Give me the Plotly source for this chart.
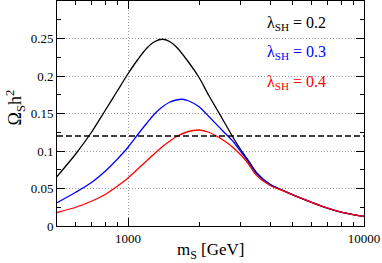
import plotly.graph_objects as go

# Data
m_s_02 = [500, 600, 700, 800, 900, 1000, 1100, 1200, 1300, 1400, 1500, 1600, 1800, 2000, 2200,
          2500, 2800, 3000, 3200, 3500, 4000, 4500, 5000, 6000, 7000, 8000, 9000, 10000]
omega_02 = [0.066, 0.096, 0.125, 0.154, 0.180, 0.203, 0.222, 0.237, 0.246, 0.249, 0.246, 0.239,
            0.219, 0.198, 0.174, 0.144, 0.117, 0.102, 0.0895, 0.0715, 0.0555, 0.0478, 0.0415,
            0.0315, 0.0238, 0.0185, 0.0152, 0.0128]
m_s_03 = [500, 600, 700, 800, 900, 1000, 1100, 1200, 1300, 1400, 1500, 1600, 1700, 1800, 2000,
          2200, 2500, 2800, 3000, 3200, 3500, 4000, 4500, 5000, 6000, 7000, 8000, 9000, 10000]
omega_03 = [0.031, 0.045, 0.058, 0.073, 0.089, 0.105, 0.122, 0.137, 0.150, 0.159, 0.165, 0.168,
            0.169, 0.167, 0.159, 0.146, 0.128, 0.112, 0.0995, 0.088, 0.070, 0.055, 0.0478,
            0.0415, 0.0315, 0.0238, 0.0185, 0.0152, 0.0128]
m_s_04 = [500, 600, 700, 800, 900, 1000, 1200, 1400, 1500, 1600, 1800, 2000, 2200, 2400, 2600,
          2800, 3000, 3200, 3500, 4000, 4500, 5000, 6000, 7000, 8000, 9000, 10000]
omega_04 = [0.018, 0.025, 0.033, 0.042, 0.053, 0.064, 0.087, 0.106, 0.113, 0.119, 0.126, 0.128,
            0.125, 0.119, 0.112, 0.104, 0.095, 0.085, 0.0675, 0.054, 0.0475, 0.0415, 0.0315,
            0.0238, 0.0185, 0.0152, 0.0128]
relic = 0.12
relic_x = [500, 10000]
lambdas = ["0.2", "0.3", "0.4"]
colors = ["black", "blue", "red"]

x_major = [1000, 10000]
x_labels = ["1000", "10000"]
x_minor = [500, 600, 700, 800, 900, 2000, 3000, 4000, 5000, 6000, 7000, 8000, 9000]
y_major = [0, 0.05, 0.1, 0.15, 0.2, 0.25]
y_labels = ["0", "0.05", "0.1", "0.15", "0.2", "0.25"]

FONT = "Liberation Serif, Times New Roman, Times, serif"

fig = go.Figure()
for xs, ys, c in zip([m_s_02, m_s_03, m_s_04], [omega_02, omega_03, omega_04], colors):
    fig.add_trace(go.Scatter(x=xs, y=ys, mode="lines",
                             line=dict(color=c, width=1.3, shape="spline", smoothing=0.8),
                             showlegend=False, hoverinfo="skip"))
fig.add_trace(go.Scatter(x=relic_x, y=[relic, relic], mode="lines",
                         line=dict(color="black", width=1.3, dash="6px,3px"), showlegend=False,
                         hoverinfo="skip"))

axis_common = dict(ticks="inside", ticklen=8, tickcolor="black", showline=True, linecolor="black",
                   linewidth=1, mirror="ticks", showgrid=True, gridcolor="#9a9a9a",
                   griddash="1px,2px", gridwidth=1, zeroline=False,
                   tickfont=dict(family=FONT, size=13, color="black"))

fig.update_layout(
    width=382, height=263,
    margin=dict(l=57, r=18, t=1, b=37),
    paper_bgcolor="white", plot_bgcolor="white",
    font=dict(family=FONT, size=13, color="black"),
    xaxis=dict(type="log", range=[2.69897, 4], tickvals=x_major, ticktext=x_labels,
               minor=dict(tickvals=x_minor, ticks="inside", ticklen=4, tickcolor="black",
                          showgrid=False), **axis_common),
    yaxis=dict(range=[0, 0.3], tickvals=y_major, ticktext=y_labels,
               minor=dict(dtick=0.025, tick0=0, ticks="inside", ticklen=4, tickcolor="black",
                          showgrid=False), **axis_common),
)

fig.add_annotation(text="m<sub>S</sub> [GeV]", xref="paper", yref="paper", x=0.5, y=-0.113,
                   xanchor="center", yanchor="middle", showarrow=False,
                   font=dict(family=FONT, size=17, color="black"))
fig.add_annotation(text="Ω<sub>S</sub>h<sup>2</sup>", xref="paper", yref="paper", x=-0.135, y=0.525,
                   xanchor="center", yanchor="middle", textangle=-90, showarrow=False,
                   font=dict(family=FONT, size=18, color="black"))

ypos = [0.902, 0.773, 0.636]
for lam, c, yp in zip(lambdas, colors, ypos):
    fig.add_annotation(text=f"λ<sub>SH</sub> = {lam}", xref="paper", yref="paper", x=0.677, y=yp,
                       xanchor="left", yanchor="middle", showarrow=False,
                       font=dict(family=FONT, size=16, color=c))

fig.write_html("out.html", config={"displayModeBar": False},
               post_script="document.body.style.margin='0px';")
